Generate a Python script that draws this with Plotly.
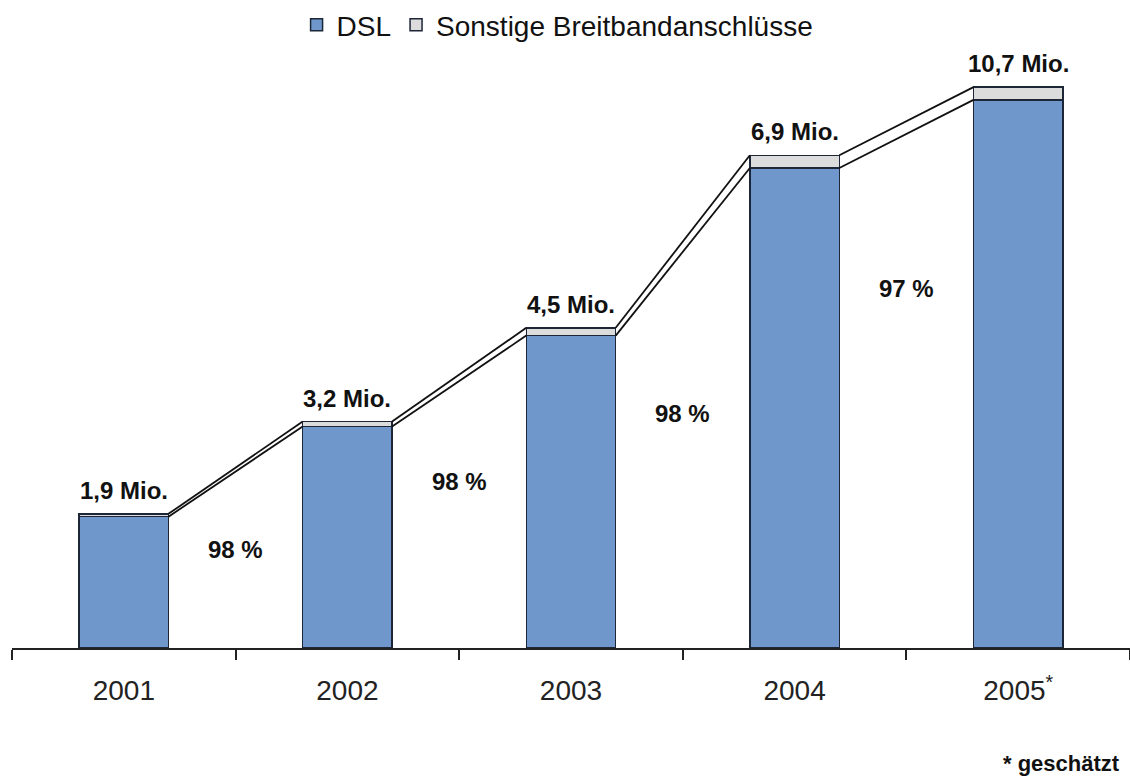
import plotly.graph_objects as go

years = ["2001", "2002", "2003", "2004", "2005<sup>*</sup>"]
# bar heights as drawn in the picture (units of the chart's own scale)
dsl = [1.85, 3.12, 4.40, 6.76, 7.72]
sonstige = [0.04, 0.07, 0.11, 0.18, 0.18]
total_labels = ["1,9 Mio.", "3,2 Mio.", "4,5 Mio.", "6,9 Mio.", "10,7 Mio."]
share_labels = ["98 %", "98 %", "98 %", "97 %"]

BAR_W = 0.4
BLUE = "#6f97cc"
GRAY = "#dcdcdc"
EDGE = "#1c2636"
FONT = "Liberation Sans, Arial"

xs = list(range(len(years)))
totals = [d + s for d, s in zip(dsl, sonstige)]

fig = go.Figure()
fig.add_trace(go.Bar(x=xs, y=dsl, width=BAR_W, name="DSL",
                     marker=dict(color=BLUE, line=dict(color=EDGE, width=1.5)),
                     hoverinfo="skip"))
fig.add_trace(go.Bar(x=xs, y=sonstige, width=BAR_W, name="Sonstige Breitbandanschlüsse",
                     marker=dict(color=GRAY, line=dict(color=EDGE, width=1.5)),
                     hoverinfo="skip"))

# connector lines between bar tops
for series in (dsl, totals):
    for i in range(len(xs) - 1):
        fig.add_trace(go.Scatter(x=[xs[i] + BAR_W / 2, xs[i + 1] - BAR_W / 2],
                                 y=[series[i], series[i + 1]], mode="lines",
                                 line=dict(color="#111111", width=1.8),
                                 showlegend=False, hoverinfo="skip"))

# value labels above bars
for i, t in enumerate(totals):
    fig.add_annotation(x=xs[i], y=t, text="<b>" + total_labels[i] + "</b>", showarrow=False,
                       yanchor="bottom", yshift=8,
                       font=dict(family=FONT, size=24, color="#111111"))

# share labels between bars
for i, s in enumerate(share_labels):
    fig.add_annotation(x=xs[i] + 0.5, y=dsl[i] * 0.75, text="<b>" + s + "</b>", showarrow=False,
                       font=dict(family=FONT, size=24, color="#111111"))

fig.add_annotation(x=1, xref="paper", xanchor="right", xshift=-8,
                   y=-(763 - 648) / (648 - 70), yref="paper", yanchor="middle",
                   text="<b>* geschätzt</b>", showarrow=False,
                   font=dict(family=FONT, size=22, color="#111111"))

fig.update_layout(
    width=1130, height=782,
    margin=dict(l=12, r=0, t=70, b=134),
    barmode="stack",
    plot_bgcolor="white", paper_bgcolor="white",
    showlegend=True,
    legend=dict(orientation="h", x=0.488, xanchor="center", y=1 + (70 - 25) / 578, yanchor="middle",
                font=dict(family=FONT, size=28, color="#111111"),
                traceorder="normal", itemwidth=30),
    xaxis=dict(range=[-0.5, 4.5], tickmode="array", tickvals=xs, ticktext=years,
               ticks="", showgrid=False, zeroline=False, showline=True,
               linecolor="#222222", linewidth=1.5, ticklabelstandoff=17,
               tickfont=dict(family=FONT, size=28, color="#222222"),
               minor=dict(tickmode="array", tickvals=[x - 0.5 for x in range(len(years) + 1)],
                          ticks="outside", ticklen=10, tickwidth=1.5, tickcolor="#222222",
                          showgrid=False)),
    yaxis=dict(range=[0, 578 / 71], visible=False, showgrid=False, zeroline=False),
)

fig.write_html("out.html")
